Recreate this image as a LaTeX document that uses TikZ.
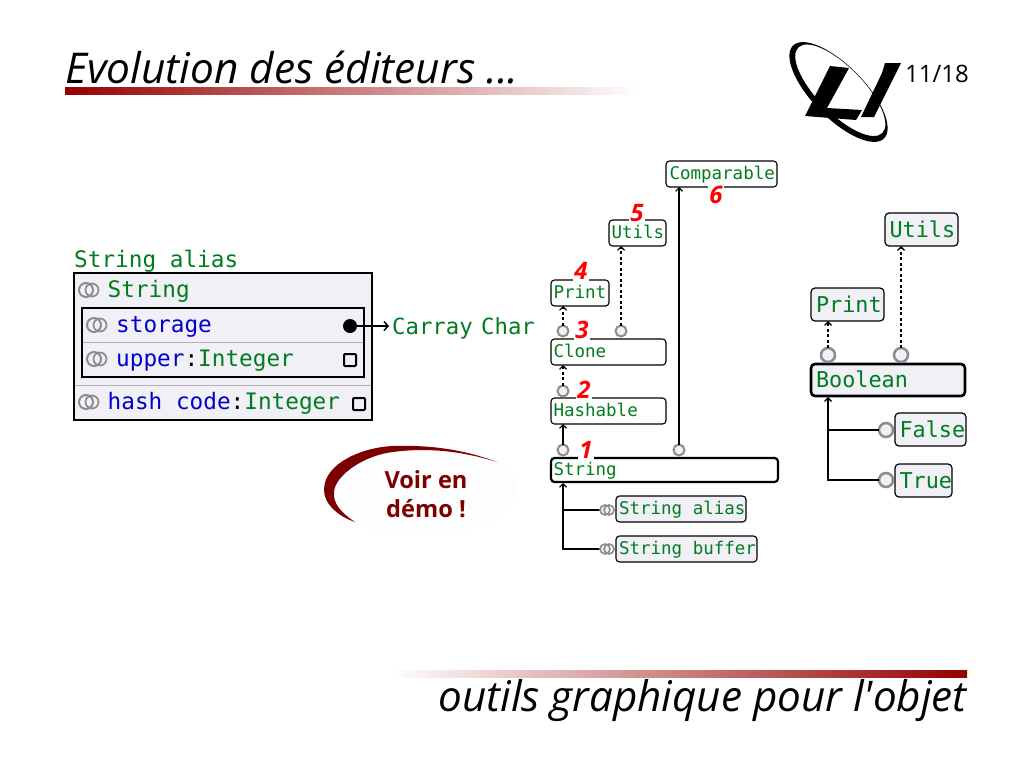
\documentclass[tikz,border=0pt]{standalone}
\usepackage{fontspec}
\setmainfont{Open Sans}[Ligatures=TeXOff]
\setmonofont{DejaVu Sans Mono}
\usetikzlibrary{arrows.meta}
\definecolor{tgreen}{RGB}{0,125,30}
\definecolor{tblue}{RGB}{0,0,205}
\definecolor{boxfill}{RGB}{240,240,246}
\definecolor{bardark}{RGB}{150,0,0}
\definecolor{demored}{RGB}{125,0,0}
\newcommand{\fs}[1]{\fontsize{#1}{#1}\selectfont}
\newcommand{\lbl}[2]{\hspace*{#1}\spaceskip=0pt\relax #2}
\tikzset{
  x=1pt,y=-1pt,
  cls/.style={draw=black,rounded corners=3.5pt,line width=1.1pt,outer sep=0pt,anchor=north west,inner sep=0pt,font=\ttfamily\fs{17.5},text=tgreen,text height=13pt,text depth=2pt},
  clb/.style={cls,font=\ttfamily\fs{21.8},rounded corners=4pt,fill=boxfill,line width=1.2pt,text height=16.5pt,text depth=1.5pt},
  num/.style={font=\itshape\bfseries\fs{24},text=red,fill=white,inner sep=1pt,text height=17pt,text depth=0pt},
  port/.style={circle,draw=black!45,fill=boxfill,line width=2pt,minimum size=11pt,inner sep=0pt,outer sep=0pt},
  portb/.style={port,line width=2.5pt,minimum size=14pt},
  inh/.style={line width=1.1pt,-{Straight Barb[length=3.5pt,width=7pt]}},
  cli/.style={inh,dashed,dash pattern=on 3pt off 2.5pt},
  big/.style={font=\ttfamily\fs{22.7},anchor=base west,inner sep=0pt},
}
\newcommand{\oo}[2]{%
  \draw[black!45,line width=2pt] (#1-3,#2) circle[radius=7];
  \draw[black!45,line width=1.7pt] (#1+3,#2) circle[radius=6.5];
}
\newcommand{\ooS}[2]{%
  \draw[black!45,line width=1.6pt,fill=boxfill] (#1-1,#2) circle[radius=5];
  \draw[black!45,line width=1.6pt] (#1+3,#2) circle[radius=5];
}
\begin{document}
\begin{tikzpicture}
\useasboundingbox (0,0) rectangle (1024,768);
\fill[white] (0,0) rectangle (1024,768);
% title and footer
\node[anchor=base west,inner sep=0pt,font=\itshape\fs{42.4}] (title) at (65,83) {Evolution des éditeurs ...};
\shade[left color=bardark,right color=white] (65,87) rectangle (640,94);
\shade[left color=white,right color=bardark] (390,670) rectangle (967,677);
\node[anchor=base east,inner sep=0pt,font=\itshape\fs{42.2}] (foot) at (967,711) {outils graphique pour l'objet};
\node[anchor=base east,inner sep=0pt,font=\fs{24}] (page) at (969,82) {11/18};
% logo
\begin{scope}[shift={(838.5,92)},rotate=-45.6]
\fill[even odd rule] (0,0) ellipse[x radius=65,y radius=26] (0,-2.5) ellipse[x radius=60,y radius=23];
\end{scope}
\fill (830,66) -- (849,68) -- (827,108) -- (862,110) -- (856,120) -- (805,116) -- cycle;
\fill (885,63) -- (901,63) -- (896,73) -- (874,117) -- (861,117) -- (882,73) -- cycle;
% left class box
\node[big,text=tgreen] (salias) at (74,267.7) {String alias};
\draw[fill=boxfill,line width=1.2pt] (74,273) rectangle (372,420);
\draw[fill=boxfill,line width=1.2pt] (82,308) rectangle (364,377);
\draw[black!30,line width=1pt] (83,342) -- (363,342);
\draw[black!30,line width=1pt] (75,385) -- (371,385);
\oo{89}{290}\oo{97}{325}\oo{97}{359}\oo{89}{402}
\node[big,text=tgreen] (s1) at (107.5,297.7) {String};
\node[big,text=tblue] (s2) at (116,332) {storage};
\node[big] (s3) at (116,366) {\color{tblue}upper\color{black}:\color{tgreen}Integer};
\node[big] (s4) at (107.5,409.7) {\color{tblue}hash code\color{black}:\color{tgreen}Integer};
\node[circle,fill=black,minimum size=14pt,inner sep=0pt] (dot) at (350,326) {};
\node[draw=black,line width=2pt,rounded corners=1pt,minimum size=12pt,inner sep=0pt] (sq1) at (350,360) {};
\node[draw=black,line width=2pt,rounded corners=1pt,minimum size=12pt,inner sep=0pt] (sq2) at (359,404) {};
\node[big,text=tgreen,font=\ttfamily\fs{22.3}] (carray) at (392,334) {Carray\hspace{-5pt} Char};
\draw[inh,line width=1.5pt,-{Straight Barb[length=4pt,width=9pt]}] (dot) -- (389,326) coordinate (ce);
% middle diagram
\node[cls,minimum width=227pt,minimum height=24pt,line width=2.2pt,text width=227pt] (string) at (551,458) {\lbl{2.5pt}{String}};
\node[cls,minimum width=115pt,minimum height=26pt,text width=115pt] (hash) at (551,398) {\lbl{2.5pt}{Hashable}};
\node[cls,minimum width=115pt,minimum height=26pt,text width=115pt] (clone) at (551,339) {\lbl{2.5pt}{Clone}};
\node[cls,minimum width=58pt,minimum height=26pt,text width=58pt] (print) at (551,280) {\lbl{2.5pt}{Print}};
\node[cls,minimum width=57pt,minimum height=26pt,text width=57pt] (utils) at (609,220) {\lbl{2.5pt}{Utils}};
\node[cls,minimum width=111pt,minimum height=26pt,text width=111pt] (comp) at (666,161) {\lbl{3.5pt}{Comparable}};
\node[cls,fill=boxfill,minimum width=130pt,minimum height=26pt,text width=130pt] (sa) at (616,496) {\lbl{3pt}{String alias}};
\node[cls,fill=boxfill,minimum width=141pt,minimum height=26pt,text width=141pt] (sb) at (616,536) {\lbl{3pt}{String buffer}};
\node[port] (p1) at (563,450) {};
\node[port] (p1b) at (679,450) {};
\node[port] (p2) at (563,391) {};
\node[port] (p3) at (563,331) {};
\node[port] (p3b) at (621,331) {};
\draw[inh] (p1) -- (p1|-hash.south);
\draw[cli] (p2) -- (p2|-clone.south);
\draw[cli] (p3) -- (p3|-print.south);
\draw[cli] (p3b) -- (p3b|-utils.south);
\draw[inh] (p1b) -- (p1b|-comp.south);
\coordinate (sa0) at (605,510);
\coordinate (sb0) at (605,549);
\draw[inh] (sb0) -| (563,483) coordinate (st0);
\draw[line width=1.1pt] (sa0) -- (563,510);
\ooS{606}{510}
\ooS{606}{549}
\node[num] (n1) at (586,450) {1};
\node[num] (n2) at (584,390) {2};
\node[num] (n3) at (582,330) {3};
\node[num] (n4) at (581,271) {4};
\node[num] (n5) at (637,213) {5};
\node[num] (n6) at (716,195) {6};
% right diagram
\node[clb,minimum width=154pt,minimum height=32pt,line width=2.6pt,text width=154pt] (bool) at (811,364) {\lbl{5pt}{Boolean}};
\node[clb,minimum width=73pt,minimum height=33pt,text width=73pt] (bprint) at (811,288) {\lbl{5pt}{Print}};
\node[clb,minimum width=73pt,minimum height=33pt,text width=73pt] (butils) at (885,213) {\lbl{4.5pt}{Utils}};
\node[clb,minimum width=71pt,minimum height=33pt,text width=71pt] (bfalse) at (895,413) {\lbl{4.5pt}{False}};
\node[clb,minimum width=57pt,minimum height=33pt,text width=57pt] (btrue) at (895,464) {\lbl{4.5pt}{True}};
\node[portb] (q1) at (828,355) {};
\node[portb] (q2) at (901,355) {};
\node[portb] (q3) at (886,430) {};
\node[portb] (q4) at (886,480) {};
\draw[cli,line width=1.3pt] (q1) -- (q1|-bprint.south);
\draw[cli,line width=1.3pt] (q2) -- (q2|-butils.south);
\draw[inh,line width=1.3pt] (q4) -| (828,397) coordinate (b0);
\draw[line width=1.3pt] (q3) -- (828,430);
% demo bubble
\definecolor{demofill}{RGB}{253,253,253}
\fill[demofill] (420,490) ellipse[x radius=97,y radius=46];
\fill[demored] (497,462) .. controls (460,448) and (425,445) .. (393,446)
  .. controls (365,447) and (324,462) .. (324,490)
  .. controls (324,505) and (340,517) .. (355,522)
  .. controls (340,512) and (333,503) .. (334,492)
  .. controls (335,475) and (365,455) .. (393,452)
  .. controls (430,447) and (465,452) .. (497,462) -- cycle;
\node[font=\bfseries\fs{23.6},text=demored,align=center,inner sep=0pt] (demo) at (426,494) {Voir en\\[6pt]démo !};
\end{tikzpicture}
\end{document}
